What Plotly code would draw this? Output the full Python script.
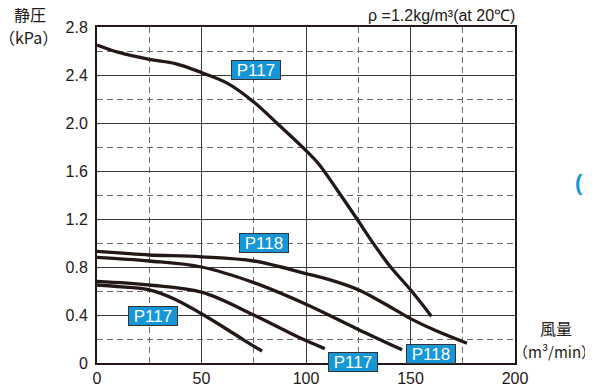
import plotly.graph_objects as go

# ---- data ----
x_p117_high = [0, 10, 25, 37.5, 50, 62.5, 75, 86, 100, 106, 115, 124.4, 131.3, 140, 150, 160]
y_p117_high = [2.65, 2.59, 2.53, 2.495, 2.42, 2.33, 2.175, 2.0, 1.77, 1.66, 1.44, 1.2, 1.02, 0.81, 0.61, 0.39]

x_p118_top = [0, 12, 25, 50, 75, 100, 112, 125, 137, 150, 162, 177]
y_p118_top = [0.93, 0.915, 0.90, 0.885, 0.85, 0.745, 0.69, 0.61, 0.50, 0.37, 0.27, 0.165]

x_p118_low = [0, 25, 50, 75, 100, 125, 146]
y_p118_low = [0.88, 0.85, 0.80, 0.67, 0.49, 0.28, 0.11]

x_p117_mid = [0, 25, 50, 75, 97, 109]
y_p117_mid = [0.68, 0.65, 0.59, 0.40, 0.21, 0.12]

x_p117_low = [0, 12, 25, 37.5, 50, 65, 75, 79]
y_p117_low = [0.65, 0.635, 0.61, 0.53, 0.41, 0.25, 0.14, 0.10]

y_tick_vals = [0, 0.4, 0.8, 1.2, 1.6, 2.0, 2.4, 2.8]
y_tick_text = ["0", "0.4", "0.8", "1.2", "1.6", "2.0", "2.4", "2.8"]
x_tick_vals = [0, 50, 100, 150, 200]
x_tick_text = ["0", "50", "100", "150", "200"]

# model labels: (text, x, y)
labels = [
    ("P117", 75.9, 2.44),
    ("P118", 80.1, 0.997),
    ("P117", 26.8, 0.39),
    ("P117", 122.7, 0.007),
    ("P118", 159.7, 0.077),
]

LINE = "#231815"
BLUE = "#1596d6"
FONT = "Liberation Sans, Arial, sans-serif"
CJK = "Noto Sans CJK JP, sans-serif"

fig = go.Figure()
for xs, ys in [(x_p117_high, y_p117_high), (x_p118_top, y_p118_top),
               (x_p118_low, y_p118_low), (x_p117_mid, y_p117_mid),
               (x_p117_low, y_p117_low)]:
    fig.add_trace(go.Scatter(x=xs, y=ys, mode="lines",
                             line=dict(color=LINE, width=3.3, shape="spline", smoothing=1.0),
                             hoverinfo="skip", showlegend=False))

for text, lx, ly in labels:
    fig.add_annotation(x=lx, y=ly, xref="x", yref="y", text=text, showarrow=False,
                       font=dict(family=FONT, size=17, color="white"),
                       bgcolor=BLUE, bordercolor="#333333", borderwidth=1,
                       borderpad=0, width=48, height=18)

def paper_text(text, px, py, size, family=CJK, color="#231815", xanchor="center"):
    # px, py: anchor position in paper coordinates
    fig.add_annotation(x=px, y=py, xref="paper", yref="paper", xanchor=xanchor, yanchor="middle",
                       text=text, showarrow=False,
                       font=dict(family=family, size=size, color=color))

paper_text("静圧", -0.160, 1.040, 16)
paper_text("（kPa）", -0.165, 0.970, 16)
paper_text("風量", 1.098, 0.104, 16)
paper_text("（m³/min）", 1.094, 0.033, 15)
paper_text("<b>(</b>", 1.1675, 0.536, 22, family="Liberation Sans, Arial, sans-serif",
           color=BLUE, xanchor="right")

fig.add_annotation(x=1.0, y=1.0, xref="paper", yref="paper", xanchor="right", yanchor="bottom",
                   xshift=2, yshift=1, text="ρ =1.2kg/m³(at 20℃)", showarrow=False,
                   font=dict(family=FONT, size=16, color="#231815"))

fig.update_xaxes(range=[0, 200], tickvals=x_tick_vals, ticktext=x_tick_text, automargin=False,
                 showgrid=True, gridcolor="#3a3a3a", gridwidth=1.3,
                 minor=dict(dtick=25, showgrid=True, gridcolor="#6a6a6a", griddash="6px,4px", gridwidth=1.1),
                 showline=True, linecolor="#231815", linewidth=2, mirror=True,
                 ticks="", zeroline=False,
                 tickfont=dict(family=FONT, size=16, color="#231815"))
fig.update_yaxes(range=[0, 2.8], tickvals=y_tick_vals, ticktext=y_tick_text, automargin=False,
                 showgrid=True, gridcolor="#3a3a3a", gridwidth=1.3,
                 minor=dict(dtick=0.2, showgrid=True, gridcolor="#6a6a6a", griddash="6px,4px", gridwidth=1.1),
                 showline=True, linecolor="#231815", linewidth=2, mirror=True,
                 ticks="", zeroline=False, ticklabelstandoff=4,
                 tickfont=dict(family=FONT, size=16, color="#231815"))

# page body has an 8px margin, so the figure is sized/offset to compensate
fig.update_layout(width=585, height=378, margin=dict(l=89, r=78, t=19, b=23),
                  paper_bgcolor="white", plot_bgcolor="white", showlegend=False)

fig.write_html("out.html")
